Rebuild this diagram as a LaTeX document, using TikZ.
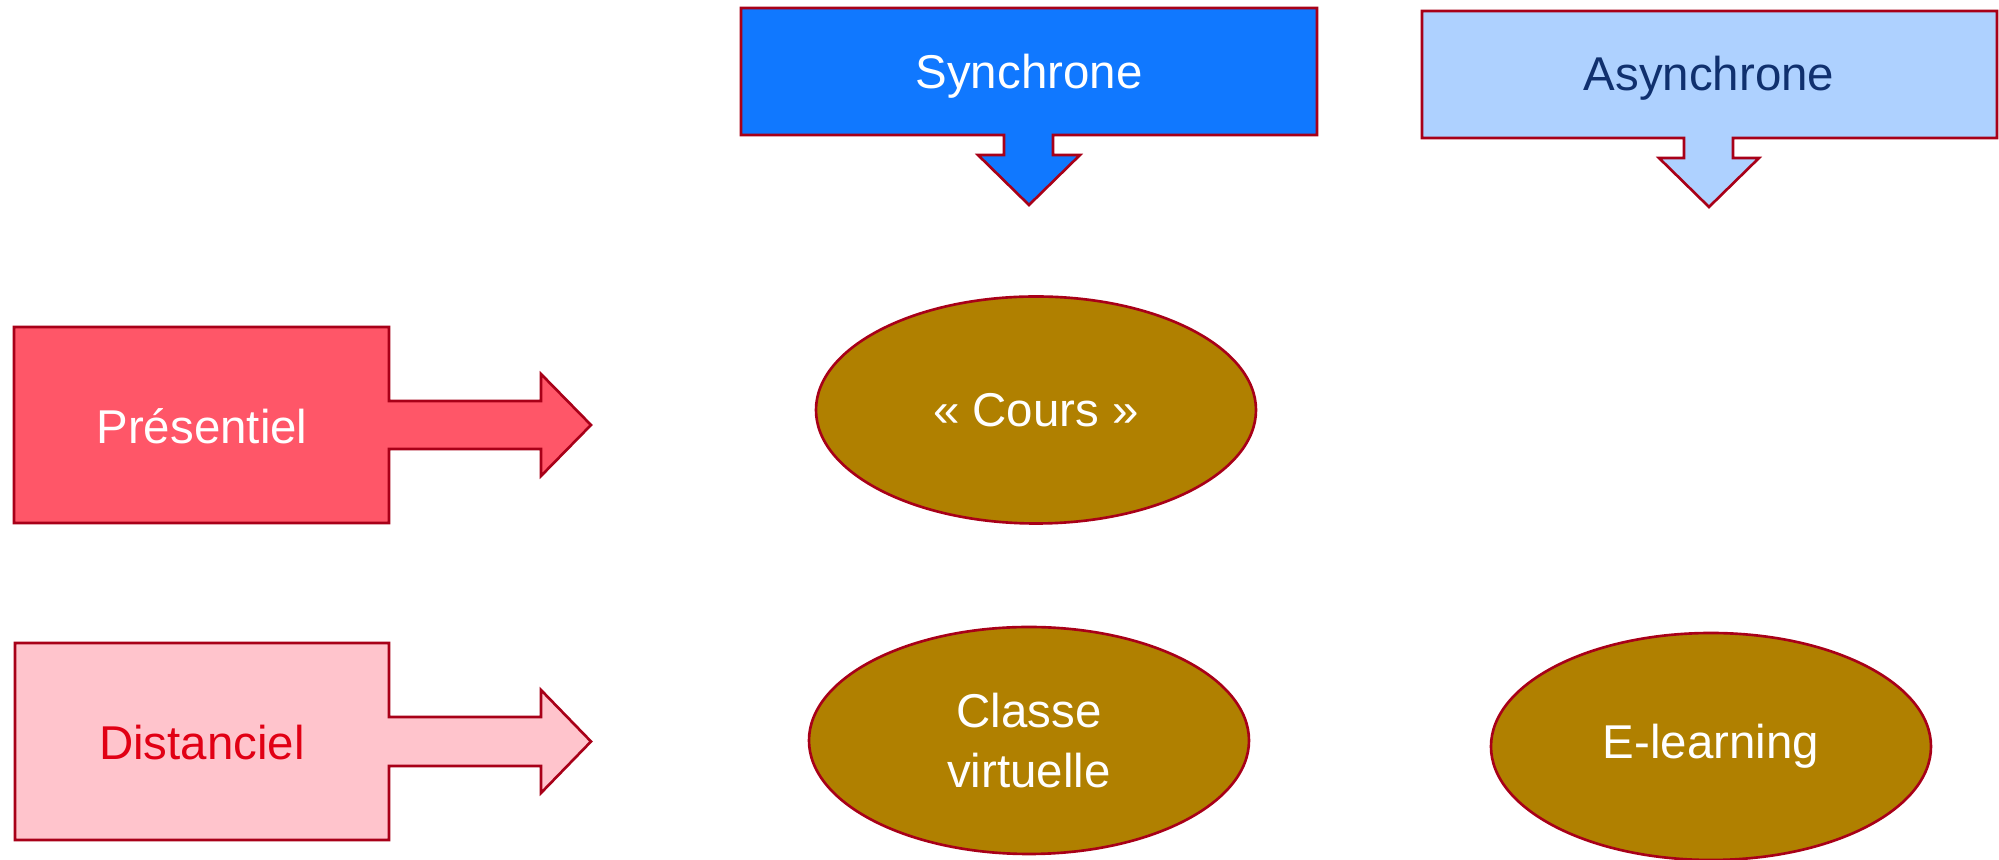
\documentclass[tikz,border=0pt]{standalone}
\usepackage{fontspec}
\setmainfont{Liberation Sans}
\usetikzlibrary{shapes.geometric}
\definecolor{bord}{RGB}{168,0,24}
\definecolor{sync}{RGB}{16,120,255}
\definecolor{async}{RGB}{174,209,255}
\definecolor{asynctxt}{RGB}{16,48,110}
\definecolor{pres}{RGB}{255,86,104}
\definecolor{dist}{RGB}{255,196,204}
\definecolor{disttxt}{RGB}{225,0,20}
\definecolor{ovale}{RGB}{176,128,0}

\begin{document}
\begin{tikzpicture}[
		forme/.style={draw=bord, line width=0.75pt},
		texte/.style={font=\fontsize{13.5}{17}\selectfont, anchor=base},
		bulle/.style={ellipse, draw=bord, line width=0.75pt, fill=ovale, minimum width=4.4cm, minimum height=2.27cm, text=white, align=center, font=\fontsize{13.5}{17}\selectfont}
	]
		\useasboundingbox (0,0) rectangle (19.99,8.6);
		\draw[forme, fill=sync] (7.41,8.52) -- (13.17,8.52) -- (13.17,7.25) -- (10.53,7.25) -- (10.53,7.05) -- (10.80,7.05) -- (10.29,6.55) -- (9.78,7.05) -- (10.04,7.05) -- (10.04,7.25) -- (7.41,7.25) -- cycle;
		\node[texte, white] (sync) at (10.29,7.71) {Synchrone};
		\draw[forme, fill=async] (14.22,8.49) -- (19.97,8.49) -- (19.97,7.22) -- (17.33,7.22) -- (17.33,7.02) -- (17.59,7.02) -- (17.09,6.53) -- (16.59,7.02) -- (16.84,7.02) -- (16.84,7.22) -- (14.22,7.22) -- cycle;
		\node[texte, asynctxt] (async) at (17.09,7.69) {Asynchrone};
		\draw[forme, fill=pres] (0.14,5.33) -- (3.89,5.33) -- (3.89,4.59) -- (5.41,4.59) -- (5.41,4.86) -- (5.91,4.35) -- (5.41,3.84) -- (5.41,4.11) -- (3.89,4.11) -- (3.89,3.37) -- (0.14,3.37) -- cycle;
		\node[texte, white] (pres) at (2.02,4.16) {Présentiel};
		\draw[forme, fill=dist] (0.15,2.17) -- (3.89,2.17) -- (3.89,1.43) -- (5.41,1.43) -- (5.41,1.70) -- (5.91,1.185) -- (5.41,0.67) -- (5.41,0.94) -- (3.89,0.94) -- (3.89,0.20) -- (0.15,0.20) -- cycle;
		\node[texte, disttxt] (dist) at (2.02,1.00) {Distanciel};
		\node[bulle] (cours) at (10.36,4.50) {«~Cours~»};
		\node[bulle] (classe) at (10.29,1.195) {Classe\\virtuelle};
		\node[bulle] (elearn) at (17.11,1.135) {E-learning};
	\end{tikzpicture}
\end{document}
